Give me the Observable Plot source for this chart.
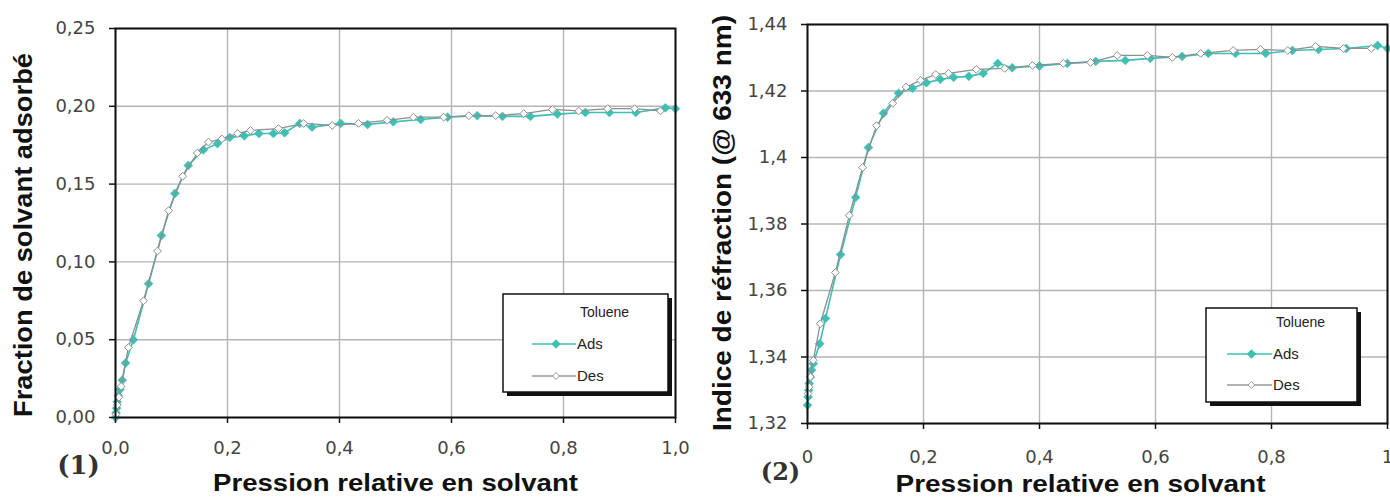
<!DOCTYPE html>
<html>
<head>
<meta charset="utf-8">
<script src="https://cdn.jsdelivr.net/npm/d3@7"></script>
<script src="https://cdn.jsdelivr.net/npm/@observablehq/plot@0.6"></script>
<style>
  html, body { margin: 0; padding: 0; background: white; }
  #root { position: relative; width: 1390px; height: 500px; overflow: hidden; background: white; }
  .panel { position: absolute; top: 0; }
  .legend { position: absolute; top: 0; left: 0; }
</style>
</head>
<body>
<div id="root"></div>
<script>
// ---------- Panel (1): fraction de solvant adsorbé ----------
const p1AdsX = [0, 0.001, 0.002, 0.003, 0.005, 0.008, 0.012, 0.018, 0.032, 0.059, 0.082, 0.106, 0.13, 0.157, 0.182, 0.204, 0.23, 0.256, 0.282, 0.302, 0.329, 0.351, 0.402, 0.45, 0.496, 0.545, 0.593, 0.646, 0.691, 0.741, 0.789, 0.839, 0.882, 0.929, 0.982, 1.0];
const p1AdsY = [0, 0.003, 0.006, 0.010, 0.014, 0.018, 0.024, 0.035, 0.050, 0.086, 0.117, 0.144, 0.162, 0.172, 0.176, 0.180, 0.181, 0.1825, 0.1825, 0.183, 0.189, 0.1866, 0.189, 0.1883, 0.190, 0.1915, 0.193, 0.194, 0.1935, 0.1935, 0.195, 0.196, 0.196, 0.196, 0.199, 0.1985];
const p1DesX = [0.001, 0.003, 0.006, 0.010, 0.023, 0.05, 0.075, 0.095, 0.12, 0.146, 0.166, 0.19, 0.218, 0.241, 0.291, 0.336, 0.387, 0.434, 0.485, 0.532, 0.586, 0.631, 0.679, 0.729, 0.78, 0.827, 0.879, 0.927, 0.973];
const p1DesY = [0.002, 0.008, 0.013, 0.020, 0.045, 0.075, 0.107, 0.133, 0.155, 0.170, 0.177, 0.179, 0.1825, 0.1845, 0.1857, 0.189, 0.1877, 0.189, 0.191, 0.193, 0.193, 0.194, 0.194, 0.1953, 0.198, 0.197, 0.1985, 0.1985, 0.197];
const p1XTicks = [0, 0.2, 0.4, 0.6, 0.8, 1.0];
const p1XLabels = ["0,0", "0,2", "0,4", "0,6", "0,8", "1,0"];
const p1YTicks = [0, 0.05, 0.10, 0.15, 0.20, 0.25];
const p1YLabels = ["0,00", "0,05", "0,10", "0,15", "0,20", "0,25"];

// ---------- Panel (2): indice de réfraction ----------
const p2AdsX = [0, 0.001, 0.002, 0.003, 0.005, 0.007, 0.010, 0.021, 0.031, 0.057, 0.083, 0.105, 0.131, 0.157, 0.181, 0.205, 0.229, 0.252, 0.278, 0.303, 0.328, 0.353, 0.40, 0.448, 0.497, 0.548, 0.591, 0.646, 0.691, 0.738, 0.79, 0.836, 0.881, 0.929, 0.983, 1.0];
const p2AdsY = [1.3255, 1.328, 1.330, 1.332, 1.334, 1.336, 1.338, 1.344, 1.3516, 1.3708, 1.388, 1.403, 1.4133, 1.4193, 1.4208, 1.4225, 1.4235, 1.4241, 1.4244, 1.4253, 1.4283, 1.427, 1.4275, 1.4283, 1.4289, 1.4292, 1.4298, 1.4304, 1.4313, 1.4313, 1.4313, 1.4322, 1.4325, 1.4328, 1.4337, 1.4328];
const p2DesX = [0.001, 0.003, 0.005, 0.010, 0.022, 0.048, 0.072, 0.095, 0.119, 0.147, 0.17, 0.195, 0.221, 0.243, 0.291, 0.34, 0.388, 0.441, 0.488, 0.534, 0.586, 0.629, 0.678, 0.734, 0.781, 0.828, 0.876, 0.924, 0.972];
const p2DesY = [1.329, 1.331, 1.334, 1.339, 1.350, 1.3654, 1.3826, 1.397, 1.4096, 1.4163, 1.4212, 1.4232, 1.425, 1.4253, 1.4265, 1.4268, 1.4277, 1.4283, 1.4286, 1.4307, 1.4307, 1.4301, 1.4313, 1.4322, 1.4325, 1.4322, 1.4334, 1.4328, 1.4328];
const p2XTicks = [0, 0.2, 0.4, 0.6, 0.8, 1.0];
const p2XLabels = ["0", "0,2", "0,4", "0,6", "0,8", "1"];
const p2YTicks = [1.32, 1.34, 1.36, 1.38, 1.40, 1.42, 1.44];
const p2YLabels = ["1,32", "1,34", "1,36", "1,38", "1,4", "1,42", "1,44"];

const seriesNames = ["Ads", "Des"];
const legendTitle = "Toluene";
const xTitle = "Pression relative en solvant";
const p1YTitle = "Fraction de solvant adsorbé";
const p2YTitle = "Indice de réfraction (@ 633 nm)";
const panelTags = ["(1)", "(2)"];

const teal = "#3dbfb3";
const gray = "#8e8e8e";

const zip = (xs, ys) => xs.map((x, i) => ({p: x, v: ys[i]}));

function panel(cfg) {
  const ads = zip(cfg.adsX, cfg.adsY);
  const des = zip(cfg.desX, cfg.desY);
  const fmt = (ticks, labels) => d => labels[ticks.indexOf(d)];
  const svg = Plot.plot({
    width: cfg.width, height: 500,
    marginLeft: cfg.ml, marginRight: cfg.mr, marginTop: cfg.mt, marginBottom: cfg.mb,
    x: {domain: [0, 1]},
    y: {domain: cfg.yDomain},
    style: {fontFamily: "DejaVu Sans", fontSize: "18px", background: "white", overflow: "visible"},
    marks: [
      Plot.gridX(cfg.xTicks, {stroke: "#b4b4b4", strokeOpacity: 1, strokeWidth: 1.4}),
      Plot.gridY(cfg.yTicks, {stroke: "#b4b4b4", strokeOpacity: 1, strokeWidth: 1.4}),
      Plot.line(ads, {x: "p", y: "v", stroke: teal, strokeWidth: 1.6}),
      Plot.dot(ads, {x: "p", y: "v", symbol: "diamond2", r: 4, fill: teal, stroke: teal, strokeWidth: 0.6}),
      Plot.line(des, {x: "p", y: "v", stroke: gray, strokeWidth: 1.3}),
      Plot.dot(des, {x: "p", y: "v", symbol: "diamond2", r: 3.5, fill: "white", stroke: gray, strokeWidth: 1}),
      Plot.frame({stroke: "#111", strokeWidth: 2}),
      Plot.axisX(cfg.xTicks, {tickFormat: fmt(cfg.xTicks, cfg.xLabels), tickSize: 6, tickPadding: cfg.xPad, stroke: "#111", strokeWidth: 1.5, fill: "#444", fontSize: 18, label: null}),
      Plot.axisY(cfg.yTicks, {tickFormat: fmt(cfg.yTicks, cfg.yLabels), tickSize: 6, tickPadding: 14, stroke: "#111", strokeWidth: 1.5, fill: "#444", fontSize: 18, label: null}),
      Plot.text([xTitle], {text: d => d, frameAnchor: "bottom", dx: cfg.xtDx, dy: cfg.xtDy, textAnchor: "middle", lineAnchor: "middle", fontSize: 24, fontWeight: "bold", fill: "#111", fontFamily: "Liberation Sans"}),
      Plot.text([cfg.yTitle], {text: d => d, frameAnchor: "left", dx: cfg.ytDx, dy: cfg.ytDy, rotate: -90, textAnchor: "middle", lineAnchor: "middle", fontSize: 25, fontWeight: "bold", fill: "#111", fontFamily: "Liberation Sans"}),
      Plot.text([cfg.tag], {text: d => d, frameAnchor: "bottom-left", dx: cfg.tagDx, dy: cfg.tagDy, textAnchor: "middle", lineAnchor: "middle", fontSize: cfg.tagSize, fontWeight: "bold", fill: "#333", fontFamily: "DejaVu Serif"})
    ]
  });
  svg.classList.add("panel");
  svg.style.left = cfg.left + "px";
  // stretch titles to match the reference widths
  svg.querySelectorAll("text").forEach(t => {
    if (t.textContent === xTitle) { t.setAttribute("textLength", cfg.xtLen); t.setAttribute("lengthAdjust", "spacingAndGlyphs"); }
    if (t.textContent === cfg.yTitle) { t.setAttribute("textLength", cfg.ytLen); t.setAttribute("lengthAdjust", "spacingAndGlyphs"); }
  });
  return svg;
}

const root = document.getElementById("root");

root.appendChild(panel({
  left: 0, width: 690, ml: 115, mr: 15, mt: 28, mb: 83,
  yDomain: [0, 0.25],
  adsX: p1AdsX, adsY: p1AdsY, desX: p1DesX, desY: p1DesY,
  xTicks: p1XTicks, xLabels: p1XLabels, yTicks: p1YTicks, yLabels: p1YLabels,
  xPad: 18, yTitle: p1YTitle, tag: panelTags[0],
  xtDx: 0, xtDy: 66, xtLen: 365,
  ytDx: -92, ytDy: 12, ytLen: 364,
  tagDx: -37, tagDy: 48, tagSize: 26
}));

root.appendChild(panel({
  left: 690, width: 700, ml: 117, mr: 3, mt: 24, mb: 77,
  yDomain: [1.32, 1.44],
  adsX: p2AdsX, adsY: p2AdsY, desX: p2DesX, desY: p2DesY,
  xTicks: p2XTicks, xLabels: p2XLabels, yTicks: p2YTicks, yLabels: p2YLabels,
  xPad: 21, yTitle: p2YTitle, tag: panelTags[1],
  xtDx: -17, xtDy: 61, xtLen: 370,
  ytDx: -85, ytDy: -1, ytLen: 416,
  tagDx: -27, tagDy: 49, tagSize: 24
}));

// ---------- Legends ----------
function legend(g) {
  const svg = d3.select(root).append("svg").attr("class", "legend")
    .attr("width", 1390).attr("height", 500);
  const G = svg.append("g").attr("transform", `translate(${g.x},${g.y})`);
  G.append("rect").attr("x", 4).attr("y", 4).attr("width", g.w).attr("height", g.h).attr("fill", "#111");
  G.append("rect").attr("x", 0).attr("y", 0).attr("width", g.w).attr("height", g.h)
    .attr("fill", "white").attr("stroke", "#111").attr("stroke-width", 1.5);
  const font = "Liberation Sans";
  G.append("text").attr("x", g.tx).attr("y", g.ty).attr("dy", "0.35em")
    .attr("font-family", font).attr("font-size", 14).attr("fill", "#222").text(legendTitle);
  const rows = [
    {name: seriesNames[0], y: g.r1, stroke: teal, fill: teal, s: 4.2},
    {name: seriesNames[1], y: g.r2, stroke: "#999", fill: "white", s: 3.4}
  ];
  rows.forEach(r => {
    G.append("line").attr("x1", g.l1).attr("x2", g.l2).attr("y1", r.y).attr("y2", r.y)
      .attr("stroke", r.stroke).attr("stroke-width", 1.5);
    const m = (g.l1 + g.l2) / 2 + 2;
    G.append("path").attr("d", `M${m},${r.y - r.s}L${m + r.s},${r.y}L${m},${r.y + r.s}L${m - r.s},${r.y}Z`)
      .attr("fill", r.fill).attr("stroke", r.stroke).attr("stroke-width", 1);
    G.append("text").attr("x", g.l2 + 1).attr("y", r.y).attr("dy", "0.35em")
      .attr("font-family", font).attr("font-size", 15).attr("fill", "#222").text(r.name);
  });
}
legend({x: 503, y: 294, w: 165, h: 98, tx: 77, ty: 18, l1: 29, l2: 73, r1: 50, r2: 82});
legend({x: 1206, y: 308, w: 151, h: 94, tx: 70, ty: 14, l1: 21, l2: 66, r1: 46, r2: 77});
</script>
</body>
</html>
